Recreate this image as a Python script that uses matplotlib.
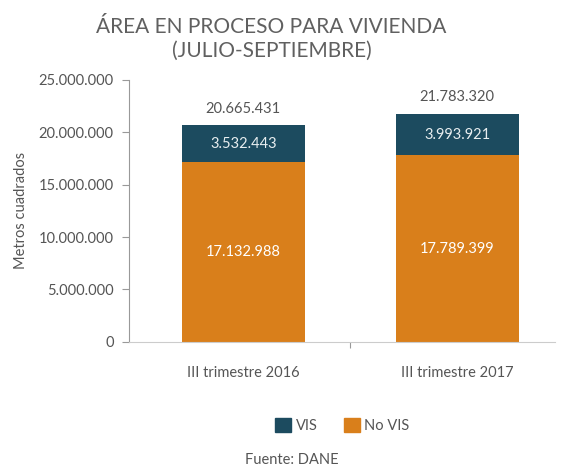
import matplotlib.pyplot as plt
from matplotlib.patches import Patch

# datos
categorias = ['III trimestre 2016', 'III trimestre 2017']
no_vis = [17132988, 17789399]
vis = [3532443, 3993921]
totales = [20665431, 21783320]
yticks = [0, 5000000, 10000000, 15000000, 20000000, 25000000]

c_vis = '#1c4b5f'
c_novis = '#d97f1b'
gris = '#555555'

def fmt(v):
    return f"{v:,}".replace(",", ".")

plt.rcParams['font.family'] = ['Lato', 'DejaVu Sans']

fig = plt.figure(figsize=(5.61, 4.76), dpi=100)
ax = fig.add_axes([0.23, 0.282, 0.76, 0.55])

x = range(len(categorias))
ax.bar(x, no_vis, width=0.575, color=c_novis)
ax.bar(x, vis, width=0.575, bottom=no_vis, color=c_vis)

for i in x:
    ax.text(i, no_vis[i] / 2, fmt(no_vis[i]), ha='center', va='center', color='white', fontsize=10.5)
    ax.text(i, no_vis[i] + vis[i] / 2, fmt(vis[i]), ha='center', va='center', color='#e8eef0', fontsize=10.5)
    ax.text(i, totales[i] + 900000, fmt(totales[i]), ha='center', va='bottom', color=gris, fontsize=10.5)

ax.set_xlim(-0.535, 1.46)
ax.set_ylim(0, 25000000)
ax.set_yticks(yticks)
ax.set_yticklabels([fmt(v) for v in yticks], color=gris, fontsize=10.5)
ax.set_xticks([0.5])
ax.set_xticklabels([''])
for i, c in enumerate(categorias):
    ax.text(i, -3000000, c, ha='center', va='center', color=gris, fontsize=10.5)
ax.tick_params(axis='y', length=5, color='#999999', pad=6)
ax.tick_params(axis='x', length=4, color='#999999')
for s in ['top', 'right']:
    ax.spines[s].set_visible(False)
ax.spines['left'].set_color('#999999')
ax.spines['bottom'].set_color('#cccccc')
ax.set_ylabel('Metros cuadrados', color=gris, fontsize=10.5, labelpad=8)

fig.text(0.484, 0.918, 'ÁREA EN PROCESO PARA VIVIENDA\n(JULIO-SEPTIEMBRE)', ha='center', va='center',
         color='#606060', fontsize=15, linespacing=1.25)

handles = [Patch(color=c_vis, label='VIS'), Patch(color=c_novis, label='No VIS')]
fig.legend(handles=handles, loc='center', bbox_to_anchor=(0.61, 0.107), ncol=2, frameon=False,
           fontsize=10.5, labelcolor=gris, handlelength=1.1, handleheight=1.1, handletextpad=0.3,
           columnspacing=1.8)
fig.text(0.52, 0.033, 'Fuente: DANE', ha='center', va='center', color=gris, fontsize=10.5)

fig.savefig('out.png', dpi=100)
